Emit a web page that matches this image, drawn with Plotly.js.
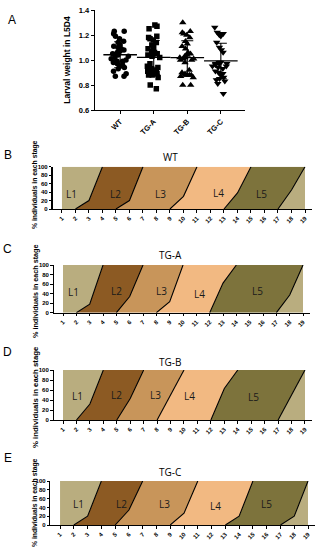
<!DOCTYPE html>
<html>
<head>
<meta charset="utf-8">
<script src="https://cdn.plot.ly/plotly-3.0.1.min.js"></script>
<style>
html,body{margin:0;padding:0;background:#fff;}
#chart{width:322px;height:550px;}
</style>
</head>
<body>
<div id="chart"></div>
<script>
// ---------- DATA ----------
const groups = ["WT", "TG-A", "TG-B", "TG-C"];
const weightWT = [1.23,1.23,1.21,1.19,1.17,1.15,1.14,1.12,1.11,1.10,1.09,1.08,1.07,1.06,1.05,1.04,1.03,1.02,1.01,1.00,0.99,0.99,0.98,0.97,0.96,0.95,0.94,0.93,0.91,0.89,0.87,0.87];
const weightTGA = [1.28,1.27,1.25,1.19,1.18,1.17,1.16,1.14,1.12,1.10,1.09,1.07,1.06,1.05,1.04,1.03,1.02,1.05,1.04,0.97,0.95,0.94,0.93,0.92,0.91,0.90,0.90,0.89,0.88,0.89,0.88,0.86,0.80,0.77];
const weightTGB = [1.30,1.23,1.22,1.21,1.20,1.18,1.15,1.13,1.11,1.09,1.06,1.05,1.04,1.03,1.02,1.01,1.00,0.98,1.02,1.01,1.00,0.92,0.90,0.89,0.88,0.88,0.88,0.88,0.87,0.86,0.80,0.80];
const weightTGC = [1.26,1.22,1.21,1.21,1.20,1.19,1.14,1.10,1.08,1.06,0.98,0.97,0.97,0.95,0.94,0.98,0.97,0.96,0.95,0.93,0.91,0.90,0.89,0.88,0.86,0.85,0.84,0.83,0.81,0.73];

const days = [1,2,3,4,5,6,7,8,9,10,11,12,13,14,15,16,17,18,19];
const stageNames = ["L1","L2","L3","L4","L5"];
// cumulative % of individuals that have moulted out of L1..L5 on each day
const moultWT = [
  [0,0,20,100,100,100,100,100,100,100,100,100,100,100,100,100,100,100,100],
  [0,0,0,0,0,20,100,100,100,100,100,100,100,100,100,100,100,100,100],
  [0,0,0,0,0,0,0,0,0,30,100,100,100,100,100,100,100,100,100],
  [0,0,0,0,0,0,0,0,0,0,0,0,0,38,100,100,100,100,100],
  [0,0,0,0,0,0,0,0,0,0,0,0,0,0,0,0,0,45,100]
];
const moultTGA = [
  [0,0,18,100,100,100,100,100,100,100,100,100,100,100,100,100,100,100,100],
  [0,0,0,0,0,34,100,100,100,100,100,100,100,100,100,100,100,100,100],
  [0,0,0,0,0,0,0,0,23,100,100,100,100,100,100,100,100,100,100],
  [0,0,0,0,0,0,0,0,0,0,0,0,62,100,100,100,100,100,100],
  [0,0,0,0,0,0,0,0,0,0,0,0,0,0,0,0,0,37,100]
];
const moultTGB = [
  [0,0,32,100,100,100,100,100,100,100,100,100,100,100,100,100,100,100,100],
  [0,0,0,0,0,43,100,100,100,100,100,100,100,100,100,100,100,100,100],
  [0,0,0,0,0,0,0,0,50,100,100,100,100,100,100,100,100,100,100],
  [0,0,0,0,0,0,0,0,0,0,0,0,63,100,100,100,100,100,100],
  [0,0,0,0,0,0,0,0,0,0,0,0,0,0,0,0,0,50,100]
];
const moultTGC = [
  [0,0,20,100,100,100,100,100,100,100,100,100,100,100,100,100,100,100,100],
  [0,0,0,0,0,34,100,100,100,100,100,100,100,100,100,100,100,100,100],
  [0,0,0,0,0,0,0,0,0,27,100,100,100,100,100,100,100,100,100],
  [0,0,0,0,0,0,0,0,0,0,0,0,0,20,100,100,100,100,100],
  [0,0,0,0,0,0,0,0,0,0,0,0,0,0,0,0,0,20,100]
];

// ---------- HELPERS ----------
const W = 322, H = 550;
const dx = (a, b) => [a / W, b / W];
const dy = (top, bot) => [1 - bot / H, 1 - top / H];
const mean = a => a.reduce((s, v) => s + v, 0) / a.length;
const sd = a => { const m = mean(a); return Math.sqrt(a.reduce((s, v) => s + (v - m) * (v - m), 0) / (a.length - 1)); };

const traces = [];
const weights = [weightWT, weightTGA, weightTGB, weightTGC];
const symbols = ["circle", "square", "triangle-up", "triangle-down"];
weights.forEach((w, i) => {
  traces.push({
    type: "box", x: w.map(() => groups[i]), y: w, xaxis: "x", yaxis: "y",
    boxpoints: "all", jitter: 1, pointpos: 0, width: 0.55,
    line: {width: 0, color: "rgba(0,0,0,0)"}, fillcolor: "rgba(0,0,0,0)",
    marker: {symbol: symbols[i], color: "#000", size: i >= 2 ? 6.5 : 5.5},
    showlegend: false, hoverinfo: "y"
  });
});
traces.push({
  type: "scatter", mode: "markers", x: groups, y: weights.map(mean),
  xaxis: "x", yaxis: "y",
  marker: {symbol: "line-ew", size: 24, line: {width: 1.3, color: "#000"}, color: "#000"},
  error_y: {type: "data", array: weights.map(sd), visible: true, color: "#000", thickness: 1.1, width: 6},
  showlegend: false
});

// stage panels
const fillColors = {L1: "#b9ad7f", L2: "#8c5a23", L3: "#c8955a", L4: "#f2b982", L5: "#7d733c", P: "#b9ad7f"};
const panels = [
  {title: "WT", data: moultWT, ax: "2", xd: dx(52.5, 311.75), yd: dy(166.7, 209), ty: 157, tc: 185, tf: 6.8,
   lab: [[1.74, 35], [4.95, 35], [8.3, 35], [12.6, 37], [15.8, 35]]},
  {title: "TG-A", data: moultTGA, ax: "3", xd: dx(53.7, 309.7), yd: dy(265, 312.7), ty: 255, tc: 292, tf: 7.2,
   lab: [[1.8, 44], [5.0, 46], [8.4, 46], [11.25, 40], [15.6, 46]]},
  {title: "TG-B", data: moultTGB, ax: "4", xd: dx(53.6, 311.7), yd: dy(370, 420), ty: 362, tc: 397, tf: 7.8,
   lab: [[2.05, 48], [5.0, 51], [7.9, 51], [10.4, 48], [15.2, 47]]},
  {title: "TG-C", data: moultTGC, ax: "5", xd: dx(50.4, 314.9), yd: dy(481, 525), ty: 472, tc: 503, tf: 6.8,
   lab: [[2.33, 47], [5.47, 47], [8.56, 47], [12.3, 43], [15.97, 47]]}
];

const layout = {
  width: W, height: H, margin: {l: 0, r: 0, t: 0, b: 0},
  paper_bgcolor: "#fff", plot_bgcolor: "rgba(0,0,0,0)",
  showlegend: false, boxmode: "overlay",
  font: {family: "Liberation Sans, Arial, sans-serif", color: "#000"},
  xaxis: {
    domain: dx(95, 245), anchor: "y", type: "category", range: [-0.75, 3.72],
    showline: true, linecolor: "#000", linewidth: 1.3, ticks: "outside", ticklen: 3, tickcolor: "#000",
    tickangle: -45, tickfont: {size: 7.5, weight: "bold", color: "#000"}, showgrid: false, zeroline: false
  },
  yaxis: {
    domain: dy(10, 110), anchor: "x", range: [0.6, 1.4], tickvals: [0.6, 0.8, 1.0, 1.2, 1.4],
    tickformat: ".1f", showline: true, linecolor: "#000", linewidth: 1.3, ticks: "outside", ticklen: 3,
    tickcolor: "#000", tickfont: {size: 7.5, weight: "bold", color: "#000"}, showgrid: false, zeroline: false,
    title: {text: "Larval weight in L5D4", font: {size: 8.5, weight: "bold", color: "#000"}, standoff: 6}
  },
  annotations: [],
  shapes: []
};

const letters = [["A", 12, 20], ["B", 8, 155], ["C", 8, 249], ["D", 8, 352], ["E", 8, 458]];
letters.forEach(l => layout.annotations.push({
  text: l[0], x: l[1] / W, y: 1 - l[2] / H, xref: "paper", yref: "paper",
  showarrow: false, xanchor: "center", yanchor: "middle", font: {size: 12, family: "Liberation Sans, Arial", color: "#000"}
}));

panels.forEach(p => {
  const xa = "x" + p.ax, ya = "y" + p.ax;
  const m = p.data;
  const shares = {
    P: m[4],
    L5: days.map((d, i) => m[3][i] - m[4][i]),
    L4: days.map((d, i) => m[2][i] - m[3][i]),
    L3: days.map((d, i) => m[1][i] - m[2][i]),
    L2: days.map((d, i) => m[0][i] - m[1][i]),
    L1: days.map((d, i) => 100 - m[0][i])
  };
  ["P", "L5", "L4", "L3", "L2", "L1"].forEach(k => {
    traces.push({
      type: "scatter", mode: "lines", x: days, y: shares[k], xaxis: xa, yaxis: ya,
      stackgroup: "s" + p.ax, line: {width: 0}, fillcolor: fillColors[k], showlegend: false, hoverinfo: "skip"
    });
  });
  // boundary lines (only where the transition is in progress)
  m.forEach(row => {
    const yv = row.map((v, i) => {
      const inside = v > 0 && v < 100;
      const startEdge = v === 0 && i < row.length - 1 && row[i + 1] > 0;
      const endEdge = v === 100 && i > 0 && row[i - 1] < 100;
      return (inside || startEdge || endEdge) ? v : null;
    });
    traces.push({
      type: "scatter", mode: "lines", x: days, y: yv, xaxis: xa, yaxis: ya,
      connectgaps: false, line: {color: "#000", width: 1.1}, showlegend: false, hoverinfo: "skip"
    });
  });
  layout["xaxis" + p.ax] = {
    domain: p.xd, anchor: ya, range: [0.3, 19.5], tickvals: days, tickangle: -45,
    showline: true, linecolor: "#000", linewidth: 1.1, ticks: "outside", ticklen: 2.5, tickcolor: "#000",
    tickfont: {size: 6, weight: "bold", color: "#000"}, showgrid: false, zeroline: false
  };
  layout["yaxis" + p.ax] = {
    domain: p.yd, anchor: xa, range: [0, 100], tickvals: [0, 20, 40, 60, 80, 100],
    showline: true, linecolor: "#000", linewidth: 1.1, ticks: "outside", ticklen: 2.5, tickcolor: "#000",
    tickfont: {size: 6, weight: "bold", color: "#000"}, showgrid: false, zeroline: false
  };
  layout.annotations.push({
    text: "% individuals in each stage", x: 35 / W, y: 1 - p.tc / H, xref: "paper", yref: "paper",
    showarrow: false, textangle: -90, xanchor: "center", yanchor: "middle",
    font: {size: p.tf, weight: "bold", color: "#000", family: "Liberation Sans, Arial, sans-serif"}
  });
  layout.annotations.push({
    text: p.title, x: 170 / W, y: 1 - p.ty / H, xref: "paper", yref: "paper", showarrow: false,
    xanchor: "center", yanchor: "middle", font: {size: 10, family: "Open Sans, Lato, sans-serif", color: "#000"}
  });
  p.lab.forEach((pos, j) => layout.annotations.push({
    text: stageNames[j], x: pos[0], y: pos[1], xref: xa, yref: ya, showarrow: false,
    xanchor: "center", yanchor: "middle", font: {size: 10, family: "Open Sans, Lato, sans-serif", color: "#1a1a1a"}
  }));
});

Plotly.newPlot("chart", traces, layout, {staticPlot: true, displayModeBar: false});
</script>
</body>
</html>
